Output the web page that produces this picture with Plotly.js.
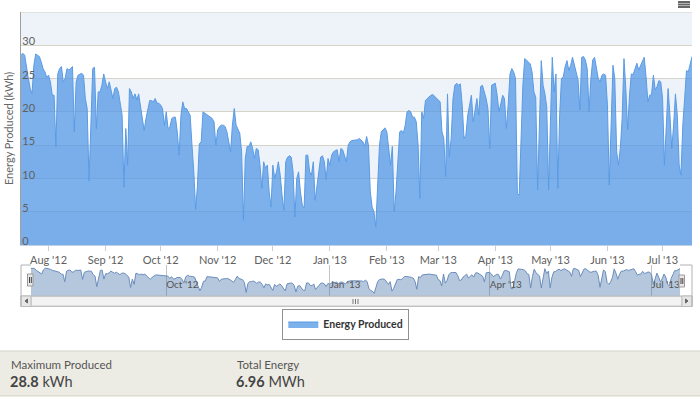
<!DOCTYPE html>
<html>
<head>
<meta charset="utf-8">
<script src="https://cdn.plot.ly/plotly-3.0.1.min.js"></script>
<style>
html,body{margin:0;padding:0;background:#fff;}
#chart{width:700px;height:397px;}
</style>
</head>
<body>
<div id="chart"></div>
<script>
// ---- data ----
const startDate = '2012-07-17';
const seriesName = 'Energy Produced';
const energy = [
28.5, 28.8, 28.5, 26.5, 25, 23.5, 22.7, 27, 28.7, 28.5,
28.3, 27.5, 26.5, 26, 25.2, 25.5, 24.5, 22.5, 22.5, 14.7,
25.7, 26.5, 26.8, 24.5, 25, 26.5, 26.3, 26.5, 26.8, 17,
24.5, 25.5, 25.7, 25.8, 25.5, 22, 20.5, 9.6, 18, 26.5,
26.7, 17.5, 23, 23, 24, 25.7, 24.5, 23.5, 24.5, 23,
22, 23.5, 23.7, 23, 21.3, 19.5, 8.7, 17.5, 12, 23.5,
23, 22, 22.7, 21.8, 22.7, 21, 19.5, 17.2, 19, 20.5,
21.7, 21.7, 21.5, 22, 21.3, 21.3, 21, 20.5, 18, 20,
17.5, 17.7, 19, 19.2, 19.2, 17, 13.5, 19.5, 21.5, 20.5,
20.5, 20, 19.5, 15, 11, 5.3, 9, 15.2, 15.5, 20,
19.8, 19.7, 19.5, 19.3, 19, 18.5, 15, 17.3, 17.8, 18,
18, 17.8, 17, 15.5, 14, 18, 20.5, 18, 17.5, 16.8,
14, 3.7, 13, 14.8, 14.8, 15.5, 14.5, 13, 14.5, 14.3,
12, 8.5, 12.5, 11.5, 12, 8, 5.7, 12, 10, 11,
12.5, 10.5, 7.5, 5.2, 12.5, 13.2, 13.4, 13.2, 11, 4.2,
10, 11, 8, 6, 5.5, 13.5, 13.5, 11, 10.5, 12.5,
6.7, 8.5, 11, 13.2, 13.4, 12.5, 9.8, 13, 12, 13.5,
14, 14.2, 14.3, 12.5, 14.5, 14.3, 13.5, 12.5, 15, 15.5,
15.7, 15.7, 15.8, 15.8, 16, 15.8, 15.5, 14.8, 16.3, 15,
8, 5.7, 5, 2.7, 8.5, 15, 17, 17.3, 17.6, 17,
14, 12, 14.8, 5, 8, 13, 17, 17.2, 16.8, 18,
20, 20.2, 20, 19.2, 19.2, 18.5, 15, 7, 20, 19,
21.7, 22, 22.3, 22.5, 22.6, 22.3, 22, 21.8, 21.5, 17,
16, 10.3, 22.7, 13.3, 16, 22, 24, 24.3, 24, 24.2,
21, 16, 16.5, 19.5, 21, 22.5, 18.5, 20.5, 22, 19.5,
23.8, 24, 23, 22, 20.5, 14.5, 24, 24.2, 24.3, 22.5,
20, 21.2, 22.5, 22, 17.5, 21, 25.7, 26.5, 26, 25,
7.7, 7.5, 16, 24, 28, 27.8, 27.5, 27.2, 26, 23,
22.2, 8.3, 20, 27.7, 24, 22.7, 20.7, 8.3, 18.5, 28.2,
23, 25.7, 8.5, 19.5, 25, 25.3, 26.8, 27.7, 26.2, 27,
28.2, 27, 26, 24.8, 20.3, 28.2, 28.3, 27.8, 26.5, 20,
25, 27.8, 28.2, 26.5, 25, 24.5, 25.5, 25.7, 25.5, 21,
9, 18, 27, 25, 14, 12, 14.5, 19, 28, 23.5,
17.3, 22.5, 25.7, 25.6, 26.3, 27.3, 26.3, 27, 27.8, 28.2,
25.3, 21.5, 22.5, 22.6, 25.5, 23.3, 23.8, 24.7, 24.5, 22,
12, 17, 23.5, 19.5, 14.5, 18, 22.7, 19.5, 12, 10.5,
18, 22, 26.2, 26, 27, 28.3
];
const yTicks = [0, 5, 10, 15, 20, 25, 30];
const bandRanges = [[30, 35], [20, 25], [10, 15], [0, 5]];
const statLabels = ['Maximum Produced', 'Total Energy'];
const statValues = ['28.8', '6.96'];
const statUnits = ['kWh', 'MWh'];

// daily dates
const dates = [];
const t0 = Date.UTC(2012, 6, 17);
for (let i = 0; i < energy.length; i++) {
  dates.push(new Date(t0 + i * 86400000).toISOString().slice(0, 10));
}
const xRange = [dates[0], dates[dates.length - 1]];

// pixel helpers
const W = 700, H = 397;
const px = v => v / W;
const py = v => 1 - v / H;

const FONT = 'Lato, "Open Sans", sans-serif';

const traces = [
  {
    x: dates, y: energy, name: '<b>' + seriesName + '</b>', type: 'scatter', mode: 'lines',
    fill: 'tozeroy', fillcolor: 'rgba(82,151,230,0.75)',
    line: {color: '#5a9be5', width: 1}, xaxis: 'x', yaxis: 'y', hoverinfo: 'skip'
  },
  {
    x: dates, y: energy, type: 'scatter', mode: 'lines', showlegend: false,
    fill: 'tozeroy', fillcolor: 'rgba(69,114,167,0.4)',
    line: {color: '#6a8dbd', width: 1}, xaxis: 'x2', yaxis: 'y2', hoverinfo: 'skip'
  }
];

const shapes = [];
bandRanges.forEach(b => shapes.push({
  type: 'rect', xref: 'x domain', yref: 'y', x0: 0, x1: 1, y0: b[0], y1: b[1],
  fillcolor: '#eef3f9', line: {width: 0}, layer: 'below'
}));
// top border of plot
shapes.push({type: 'line', xref: 'x domain', yref: 'y', x0: 0, x1: 1, y0: 35, y1: 35,
  line: {color: '#d3cfc2', width: 1}});
// bottom stats panel
shapes.push({type: 'rect', xref: 'paper', yref: 'paper', x0: 0, x1: 1, y0: 0, y1: py(351),
  fillcolor: '#edece4', line: {width: 0}, layer: 'below'});
shapes.push({type: 'line', xref: 'paper', yref: 'paper', x0: 0, x1: 1, y0: py(351), y1: py(351),
  line: {color: '#d6d3c8', width: 1}});
shapes.push({type: 'line', xref: 'paper', yref: 'paper', x0: 0, x1: 1, y0: py(395.5), y1: py(395.5),
  line: {color: '#dedbd0', width: 1}});
// scrollbar
shapes.push({type: 'rect', xref: 'paper', yref: 'paper', x0: px(21), x1: px(692), y0: py(306.5), y1: py(296),
  fillcolor: '#eeeeee', line: {color: '#bbbbbb', width: 1}});
shapes.push({type: 'rect', xref: 'paper', yref: 'paper', x0: px(31), x1: px(682), y0: py(306), y1: py(296.5),
  fillcolor: '#f3f3f3', line: {color: '#c8c8c8', width: 1}});
shapes.push({type: 'rect', xref: 'paper', yref: 'paper', x0: px(21), x1: px(31), y0: py(306.5), y1: py(296),
  fillcolor: '#e6e6e6', line: {color: '#bbbbbb', width: 1}});
shapes.push({type: 'rect', xref: 'paper', yref: 'paper', x0: px(682), x1: px(692), y0: py(306.5), y1: py(296),
  fillcolor: '#e6e6e6', line: {color: '#bbbbbb', width: 1}});
shapes.push({type: 'path', xref: 'paper', yref: 'paper',
  path: `M ${px(27.5)} ${py(299)} L ${px(27.5)} ${py(303)} L ${px(25)} ${py(301)} Z`,
  fillcolor: '#666', line: {color: '#666', width: 1}});
shapes.push({type: 'path', xref: 'paper', yref: 'paper',
  path: `M ${px(685.5)} ${py(299)} L ${px(685.5)} ${py(303)} L ${px(688)} ${py(301)} Z`,
  fillcolor: '#666', line: {color: '#666', width: 1}});
[353, 355.5, 358].forEach(x => shapes.push({type: 'line', xref: 'paper', yref: 'paper',
  x0: px(x), x1: px(x), y0: py(299), y1: py(304), line: {color: '#777', width: 1}}));
// navigator outline
shapes.push({type: 'path', xref: 'paper', yref: 'paper',
  path: `M ${px(21)} ${py(306.5)} L ${px(21)} ${py(265)} L ${px(31)} ${py(265)}`,
  line: {color: '#b2b1b6', width: 1}});
shapes.push({type: 'path', xref: 'paper', yref: 'paper',
  path: `M ${px(680)} ${py(265)} L ${px(692)} ${py(265)} L ${px(692)} ${py(306.5)}`,
  line: {color: '#b2b1b6', width: 1}});
// navigator handles
[[27.5, 274], [679, 275]].forEach(h => {
  shapes.push({type: 'rect', xref: 'paper', yref: 'paper', x0: px(h[0]), x1: px(h[0] + 5.5),
    y0: py(h[1] + 12), y1: py(h[1]), fillcolor: '#ebe7e8', line: {color: '#999', width: 1}});
  [h[0] + 2, h[0] + 3.8].forEach(x => shapes.push({type: 'line', xref: 'paper', yref: 'paper',
    x0: px(x), x1: px(x), y0: py(h[1] + 3), y1: py(h[1] + 9), line: {color: '#444', width: 1}}));
});
// menu icon
[2, 4.5, 7].forEach(y => shapes.push({type: 'line', xref: 'paper', yref: 'paper',
  x0: px(678), x1: px(690), y0: py(y), y1: py(y), line: {color: '#666', width: 2}}));

const annotations = [];
const statX = [9, 235];
statLabels.forEach((lab, i) => {
  annotations.push({xref: 'paper', yref: 'paper', x: px(statX[i]), y: py(364), xanchor: 'left', yanchor: 'middle',
    text: lab, showarrow: false, font: {family: FONT, size: 11.5, color: '#555'}});
  annotations.push({xref: 'paper', yref: 'paper', x: px(statX[i] - 1), y: py(381), xanchor: 'left', yanchor: 'middle',
    text: '<b>' + statValues[i] + '</b> ' + statUnits[i], showarrow: false,
    font: {family: FONT, size: 14.5, color: '#444'}});
});

const layout = {
  width: W, height: H,
  margin: {l: 0, r: 0, t: 0, b: 0},
  paper_bgcolor: '#ffffff', plot_bgcolor: '#ffffff',
  font: {family: FONT, color: '#606060', size: 11},
  showlegend: true,
  legend: {
    orientation: 'h', x: 0.494, xanchor: 'center', y: py(324), yanchor: 'middle',
    bordercolor: '#909090', borderwidth: 1, bgcolor: '#ffffff', itemwidth: 30,
    font: {family: FONT, size: 10.5, color: '#333'}
  },
  xaxis: {
    type: 'date', domain: [px(21), px(692)], range: xRange, anchor: 'y',
    dtick: 'M1', tick0: '2012-08-01', tickformat: "%b '%y",
    ticks: 'outside', ticklen: 5, tickcolor: '#c0d0e0',
    showline: true, linecolor: '#c0d0e0', showgrid: false, zeroline: false,
    tickfont: {family: FONT, size: 11, color: '#606060'}
  },
  yaxis: {
    domain: [py(245), py(12)], range: [0, 35], anchor: 'x',
    tickvals: yTicks, ticktext: yTicks.map(String),
    ticklabelposition: 'inside top', ticklabelshift: 4, ticklabeloverflow: 'allow',
    showgrid: true, gridcolor: '#d7d3c6', zeroline: false,
    showline: true, linecolor: '#a0a0a0',
    tickfont: {family: FONT, size: 11, color: '#606060'},
    title: {text: 'Energy Produced (kWh)', font: {family: FONT, size: 11, color: '#666'}, standoff: 6}
  },
  xaxis2: {
    type: 'date', domain: [px(31), px(680)], range: xRange, anchor: 'y2',
    dtick: 'M3', tick0: '2012-10-01', tickformat: "%b '%y",
    ticklabelposition: 'inside right', ticks: '',
    showline: false, showgrid: true, gridcolor: '#c4c4c4', zeroline: false,
    tickfont: {family: FONT, size: 10, color: '#555'}
  },
  yaxis2: {
    domain: [py(296), py(265)], range: [0, 32], anchor: 'x2',
    showgrid: false, showticklabels: false, zeroline: false, showline: false, ticks: ''
  },
  shapes: shapes,
  annotations: annotations
};

Plotly.newPlot('chart', traces, layout, {staticPlot: true, displayModeBar: false});
</script>
</body>
</html>
